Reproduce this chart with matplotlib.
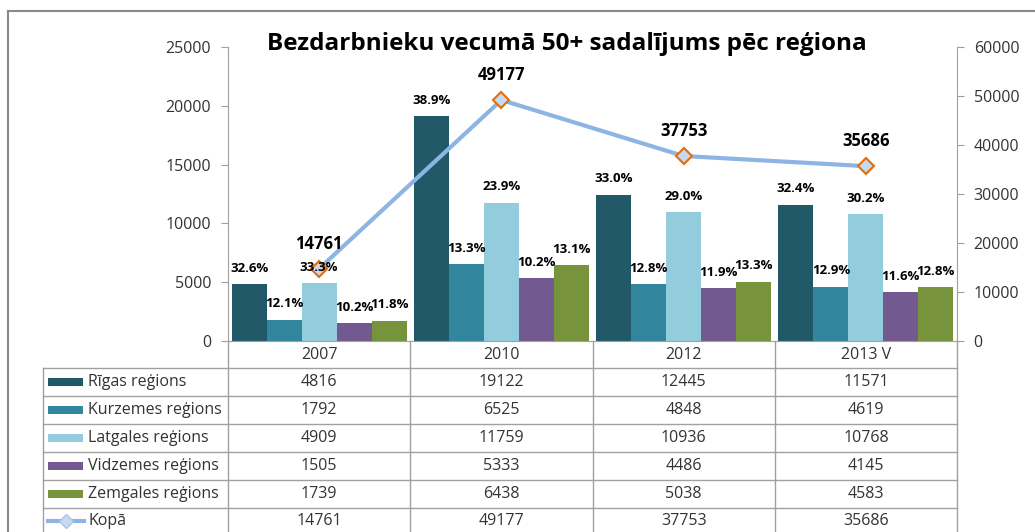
import numpy as np
import matplotlib.pyplot as plt
import matplotlib.transforms as mtransforms
from matplotlib.patches import Rectangle
from matplotlib.lines import Line2D

plt.rcParams['font.family'] = ['Open Sans', 'DejaVu Sans']

years = ['2007', '2010', '2012', '2013 V']
regions = ['Rīgas reģions', 'Kurzemes reģions', 'Latgales reģions',
           'Vidzemes reģions', 'Zemgales reģions']
rigas = [4816, 19122, 12445, 11571]
kurzemes = [1792, 6525, 4848, 4619]
latgales = [4909, 11759, 10936, 10768]
vidzemes = [1505, 5333, 4486, 4145]
zemgales = [1739, 6438, 5038, 4583]
kopa = [14761, 49177, 37753, 35686]

# percentage labels as printed above the bars
rigas_pct = ['32.6%', '38.9%', '33.0%', '32.4%']
kurzemes_pct = ['12.1%', '13.3%', '12.8%', '12.9%']
latgales_pct = ['33.3%', '23.9%', '29.0%', '30.2%']
vidzemes_pct = ['10.2%', '10.2%', '11.9%', '11.6%']
zemgales_pct = ['11.8%', '13.1%', '13.3%', '12.8%']

series = [rigas, kurzemes, latgales, vidzemes, zemgales]
pct_labels = [rigas_pct, kurzemes_pct, latgales_pct, vidzemes_pct, zemgales_pct]
colors = ['#215968', '#31859C', '#93CDDD', '#72598F', '#77933C']
line_color = '#8EB4E3'
grid_color = '#A0A0A0'
text_color = '#333333'

W, H = 1035, 532


def fx(px):
    return px / W


def fy(py):
    return 1 - py / H


fig = plt.figure(figsize=(W / 100, H / 100), dpi=100)

ax = fig.add_axes([fx(228), fy(341), (957 - 228) / W, (341 - 47) / H])
ax2 = ax.twinx()

x = np.arange(len(years))
bar_w = 0.192

# grouped bars with percentage labels
for i, (vals, color, pcts) in enumerate(zip(series, colors, pct_labels)):
    xs = x + (i - 2) * bar_w
    ax.bar(xs, vals, bar_w, color=color, linewidth=0)
    for xi, v, p in zip(xs, vals, pcts):
        ax2.annotate(p, (xi, v), xycoords=ax.transData, xytext=(0, 11.5),
                     textcoords='offset points', ha='center', va='center',
                     fontsize=9.5, fontweight='bold', color='black', zorder=6)

# total line on the secondary axis
ax2.plot(x, kopa, color=line_color, lw=3, marker='D', ms=8,
         mfc='#C6D9F1', mec='#E46C0A', mew=1.5, zorder=4)
for xi, v in zip(x, kopa):
    ax2.annotate(str(v), (xi, v), xytext=(0, 18), textcoords='offset points',
                 ha='center', va='center', fontsize=12, fontweight='bold',
                 color='black', zorder=6)

ax.set_xlim(-0.5, len(years) - 0.5)
ax.set_ylim(0, 25000)
ax2.set_ylim(0, 60000)
ax.set_yticks(range(0, 25001, 5000))
ax2.set_yticks(range(0, 60001, 10000))
ax.set_xticks([])

for a in (ax, ax2):
    for side in ('top', 'left', 'right', 'bottom'):
        a.spines[side].set_visible(False)
ax.spines['left'].set_visible(True)
ax.spines['bottom'].set_visible(True)
ax2.spines['right'].set_visible(True)
ax.spines['left'].set_color(grid_color)
ax.spines['bottom'].set_color(grid_color)
ax2.spines['right'].set_color(grid_color)

ax.tick_params(axis='y', direction='out', length=5, pad=7, color=grid_color,
               labelsize=11.5, labelcolor=text_color)
ax2.tick_params(axis='y', direction='out', length=5, pad=7, color=grid_color,
                labelsize=11.5, labelcolor=text_color)

# title
fig.text(fx(567), fy(50), 'Bezdarbnieku vecumā 50+ sadalījums pēc reģiona',
         ha='center', va='baseline', fontsize=17.5, fontweight='bold', color='black')

# outer chart frame
fig.add_artist(Line2D([fx(8), fx(W + 5)], [fy(11), fy(11)], transform=fig.transFigure,
                      color='#898989', lw=1.5))
fig.add_artist(Line2D([fx(8), fx(8)], [fy(11), fy(H + 5)], transform=fig.transFigure,
                      color='#898989', lw=1.5))

# data table below the plot
blend = mtransforms.blended_transform_factory(ax.transData, fig.transFigure)
row_top = 368
row_h = 27.9
n_rows = len(regions) + 1

for b in np.arange(-0.5, len(years), 1.0):
    fig.add_artist(Line2D([b, b], [fy(341), fy(H + 5)], transform=blend,
                          color=grid_color, lw=1))
fig.add_artist(Line2D([fx(43), fx(43)], [fy(row_top), fy(H + 5)],
                      transform=fig.transFigure, color=grid_color, lw=1))
for k in range(n_rows):
    yk = row_top + k * row_h
    fig.add_artist(Line2D([fx(43), fx(957)], [fy(yk), fy(yk)],
                          transform=fig.transFigure, color=grid_color, lw=1))

for xi, yr in zip(x, years):
    fig.text(xi, fy(355), yr, transform=blend, ha='center', va='center',
             fontsize=11.5, color=text_color)

table_rows = list(zip(regions, series, colors)) + [('Kopā', kopa, None)]
for k, (name, vals, color) in enumerate(table_rows):
    yc = row_top + (k + 0.5) * row_h
    if color is not None:
        fig.add_artist(Rectangle((fx(48), fy(yc + 4)), 35 / W, 8 / H,
                                 transform=fig.transFigure, color=color, lw=0))
    else:
        fig.add_artist(Line2D([fx(48), fx(84)], [fy(yc), fy(yc)],
                              transform=fig.transFigure, color=line_color, lw=3))
        fig.add_artist(Line2D([fx(66)], [fy(yc)], transform=fig.transFigure,
                              marker='D', ms=7, mfc='#C6D9F1', mec='#AFC3DC',
                              mew=1, linestyle='none'))
    fig.text(fx(88), fy(yc), name, ha='left', va='center', fontsize=11.5,
             color=text_color)
    for xi, v in zip(x, vals):
        fig.text(xi, fy(yc), str(v), transform=blend, ha='center', va='center',
                 fontsize=11.5, color=text_color)

fig.savefig('out.png', dpi=100)
